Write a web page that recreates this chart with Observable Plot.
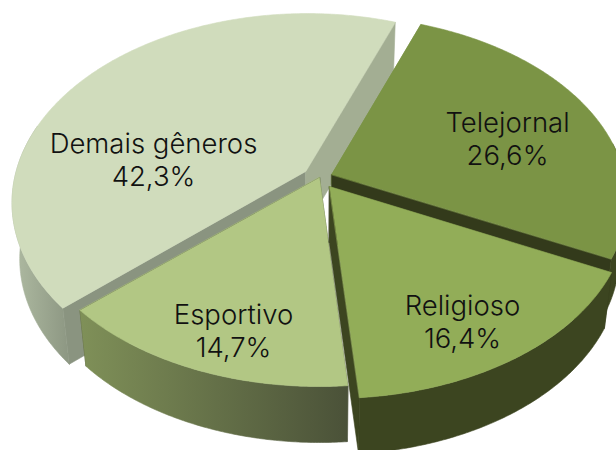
<!DOCTYPE html>
<html><head><meta charset="utf-8">
<script src="https://cdn.jsdelivr.net/npm/d3@7"></script>
<script src="https://cdn.jsdelivr.net/npm/@observablehq/plot@0.6"></script>
<style>html,body{margin:0;padding:0;background:#fff;overflow:hidden}svg{display:block}</style>
</head><body><div id="chart"></div>
<script>
// Data
const categories = ["Telejornal", "Religioso", "Esportivo", "Demais gêneros"];
const shares = [26.6, 16.4, 14.7, 42.3];
const shareLabels = ["26,6%", "16,4%", "14,7%", "42,3%"];

// Styling and layout of the tilted, exploded pie
const explode = [0.045, 0.06, 0, 0.058];
const topColors = ["#7b9445", "#92ad58", "#b2c784", "#d0dcbc"];
const rimColors = ["#3c4520", "#3c4520", "url(#rimSport)", "url(#rimOther)"];
const startSideColors = ["#7b9445", "#333a1b", "#4c5338", "#8a9480"];
const endSideColors = ["#333a1b", "#3c4520", "#4c5338", "#a3ae93"];
const labelX = [507, 462, 233, 153];
const labelY = [137, 320, 329, 158];
const paintOrder = [3, 0, 2, 1];
const sliceRadiusX = [293, 293, 293, 291];
const sliceRadiusY = [181, 181, 181, 185];
const sliceTilt = [0.134, 0.134, 0.134, 0.16];
const startAngle = 20.4, centerX = 319, centerY = 177;
const depth = 56, depthScale = 0.975;
const frontFrom = 80, frontTo = 285;

const rad = Math.PI / 180;
const total = d3.sum(shares);
let running = startAngle;
const slices = categories.map((name, i) => {
  const a0 = running, a1 = running + shares[i] / total * 360;
  running = a1;
  const mid = (a0 + a1) / 2 * rad;
  return {i, name, a0, a1, ox: explode[i] * Math.sin(mid), oy: -explode[i] * Math.cos(mid)};
});
function project(i, u, v, low) {
  const w = 1 - sliceTilt[i] * v;
  const x = sliceRadiusX[i] * u / w, y = sliceRadiusY[i] * v / w;
  return low ? {x: centerX + x * depthScale, y: centerY + y + depth} : {x: centerX + x, y: centerY + y};
}
const rimPoint = (s, a, low) => project(s.i, s.ox + Math.sin(a * rad), s.oy - Math.cos(a * rad), low);
const apex = (s, low) => project(s.i, s.ox, s.oy, low);
const arc = (s, low, from = s.a0, to = s.a1) => {
  const n = Math.ceil(to - from) * 2;
  return d3.range(n + 1).map(k => rimPoint(s, from + (to - from) * k / n, low));
};

const poly = (pts, fill) => Plot.line(pts, {x: "x", y: "y", fill, stroke: fill, strokeWidth: 0.6, curve: "linear-closed"});
const sliceMarks = paintOrder.flatMap(i => {
  const s = slices[i];
  const from = Math.max(s.a0, frontFrom), to = Math.min(s.a1, frontTo);
  return [
    poly([apex(s), rimPoint(s, s.a0), rimPoint(s, s.a0, true), apex(s, true)], startSideColors[i]),
    poly([apex(s), rimPoint(s, s.a1), rimPoint(s, s.a1, true), apex(s, true)], endSideColors[i]),
    poly([...arc(s, false, from, to), ...arc(s, true, from, to).reverse()], rimColors[i]),
    poly([apex(s), ...arc(s)], topColors[i])
  ];
});

const defs = () => {
  const d = d3.create("svg:defs");
  const grad = (id, x1, x2, c1, c2) => {
    const g = d.append("linearGradient").attr("id", id).attr("gradientUnits", "userSpaceOnUse")
      .attr("x1", x1).attr("x2", x2).attr("y1", 0).attr("y2", 0);
    g.append("stop").attr("offset", 0).attr("stop-color", c1);
    g.append("stop").attr("offset", 1).attr("stop-color", c2);
  };
  grad("rimSport", 80, 350, "#7f9058", "#4a5138");
  grad("rimOther", 10, 73, "#b0bca3", "#8a9480");
  return d.node();
};

const labels = categories.map((name, i) => ({x: labelX[i], y: labelY[i], t: name + "\n" + shareLabels[i]}));

const chart = Plot.plot({
  width: 616, height: 450, margin: 0,
  x: {domain: [0, 616], range: [0, 616], axis: null},
  y: {domain: [0, 450], range: [0, 450], axis: null},
  style: {background: "#fff"},
  marks: [
    defs,
    ...sliceMarks,
    Plot.text(labels, {x: "x", y: "y", text: "t", fill: "#111", fontSize: 27.5, fontFamily: "Inter", fontWeight: 300, lineHeight: 1.2, textAnchor: "middle"})
  ]
});
document.getElementById("chart").append(chart);
</script></body></html>
